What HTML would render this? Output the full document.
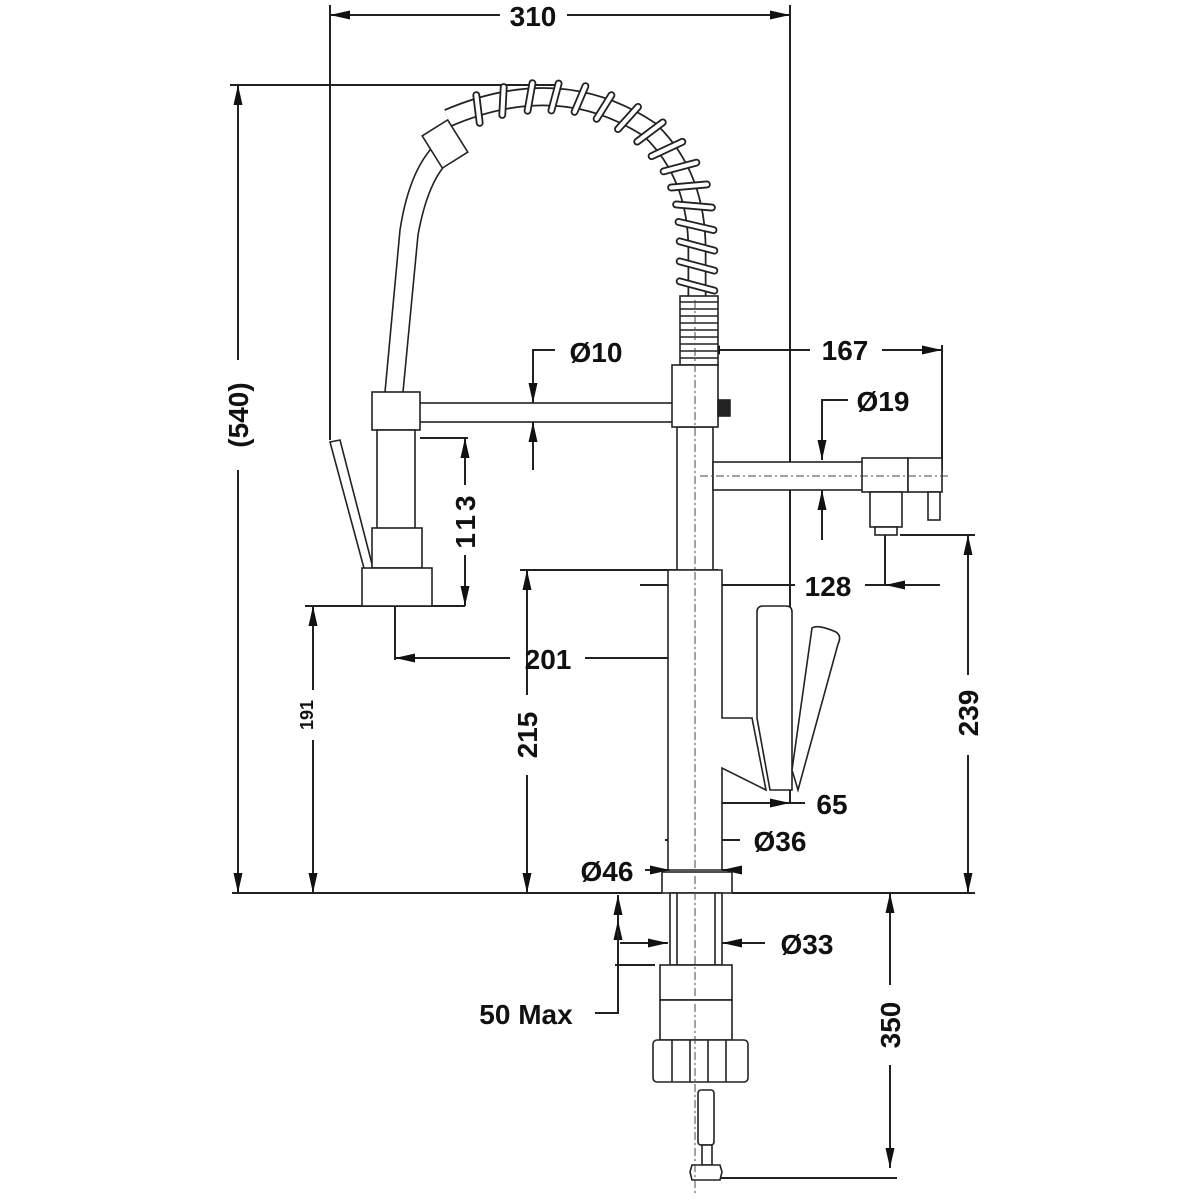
<!DOCTYPE html>
<html><head><meta charset="utf-8"><style>
html,body{margin:0;padding:0;background:#fff}
svg{display:block}
text{font-family:"Liberation Sans",sans-serif;font-weight:bold;fill:#111}
</style></head><body>
<svg width="1200" height="1200" viewBox="0 0 1200 1200" xmlns="http://www.w3.org/2000/svg">
<defs>
<marker id="a" viewBox="0 0 20 9" refX="20" refY="4.5" markerWidth="20" markerHeight="9" markerUnits="userSpaceOnUse" orient="auto-start-reverse" preserveAspectRatio="none"><path d="M0,0 L20,4.5 L0,9 z" fill="#111"/></marker>
</defs>
<g stroke="#222" stroke-width="2" fill="none">
<line x1="330" y1="5" x2="330" y2="440"/>
<line x1="790" y1="5" x2="790" y2="803"/>
<line x1="330" y1="15" x2="500" y2="15" marker-start="url(#a)"/>
<line x1="567" y1="15" x2="790" y2="15" marker-end="url(#a)"/>
<line x1="230" y1="85" x2="560" y2="85"/>
<line x1="238" y1="85" x2="238" y2="360" marker-start="url(#a)"/>
<line x1="238" y1="470" x2="238" y2="893" marker-end="url(#a)"/>
<line x1="232" y1="893" x2="662" y2="893"/>
<line x1="732" y1="893" x2="975" y2="893"/>
<line x1="305" y1="606" x2="465" y2="606"/>
<line x1="313" y1="606" x2="313" y2="690" marker-start="url(#a)"/>
<line x1="313" y1="740" x2="313" y2="893" marker-end="url(#a)"/>
<line x1="420" y1="438" x2="468" y2="438"/>
<line x1="465" y1="438" x2="465" y2="485" marker-start="url(#a)"/>
<line x1="465" y1="555" x2="465" y2="606" marker-end="url(#a)"/>
<line x1="395" y1="606" x2="395" y2="660"/>
<line x1="395" y1="658" x2="510" y2="658" marker-start="url(#a)"/>
<line x1="585" y1="658" x2="690" y2="658" marker-end="url(#a)"/>
<line x1="520" y1="570" x2="718" y2="570"/>
<line x1="527" y1="570" x2="527" y2="695" marker-start="url(#a)"/>
<line x1="527" y1="775" x2="527" y2="893" marker-end="url(#a)"/>
<line x1="640" y1="585" x2="692" y2="585" marker-end="url(#a)"/>
<line x1="692" y1="585" x2="795" y2="585"/>
<line x1="865" y1="585" x2="885" y2="585"/>
<line x1="940" y1="585" x2="885" y2="585" marker-end="url(#a)"/>
<line x1="885" y1="530" x2="885" y2="585"/>
<line x1="900" y1="535" x2="975" y2="535"/>
<line x1="968" y1="535" x2="968" y2="675" marker-start="url(#a)"/>
<line x1="968" y1="755" x2="968" y2="893" marker-end="url(#a)"/>
<line x1="810" y1="350" x2="700" y2="350" marker-end="url(#a)"/>
<line x1="882" y1="350" x2="942" y2="350" marker-end="url(#a)"/>
<line x1="942" y1="345" x2="942" y2="470"/>
<polyline points="555,350 533,350 533,405"/>
<line x1="533" y1="380" x2="533" y2="403" marker-end="url(#a)"/>
<line x1="533" y1="470" x2="533" y2="422" marker-end="url(#a)"/>
<polyline points="848,400 822,400 822,460"/>
<line x1="822" y1="430" x2="822" y2="460" marker-end="url(#a)"/>
<line x1="822" y1="540" x2="822" y2="490" marker-end="url(#a)"/>
<line x1="695" y1="803" x2="770" y2="803" marker-start="url(#a)"/>
<line x1="720" y1="803" x2="790" y2="803" marker-end="url(#a)"/>
<line x1="790" y1="803" x2="805" y2="803"/>
<line x1="665" y1="840" x2="678" y2="840" marker-start="url(#a)"/>
<line x1="678" y1="840" x2="740" y2="840"/>
<line x1="700" y1="840" x2="716" y2="840" marker-end="url(#a)"/>
<line x1="645" y1="870" x2="670" y2="870" marker-end="url(#a)"/>
<line x1="740" y1="870" x2="722" y2="870" marker-end="url(#a)"/>
<line x1="620" y1="943" x2="668" y2="943" marker-end="url(#a)"/>
<line x1="765" y1="943" x2="722" y2="943" marker-end="url(#a)"/>
<line x1="618" y1="895" x2="618" y2="943" marker-start="url(#a)"/>
<line x1="618" y1="920" x2="618" y2="965" marker-start="url(#a)"/>
<polyline points="618,930 618,1013 595,1013"/>
<line x1="615" y1="965" x2="655" y2="965"/>
<line x1="890" y1="893" x2="890" y2="985" marker-start="url(#a)"/>
<line x1="890" y1="1065" x2="890" y2="1168" marker-end="url(#a)"/>
<line x1="718" y1="1178" x2="897" y2="1178"/>
</g>

<g stroke="#222" stroke-width="1.6" fill="#fff">
<path d="M385,392 L400,230 Q410,165 440,140" fill="none"/>
<path d="M403,392 L418,235 Q428,180 450,160" fill="none"/>
<path d="M448,118 Q560,70 650,130 Q697,175 697,250 L697,300" fill="none" stroke-width="19" stroke="#222"/>
<path d="M448,118 Q560,70 650,130 Q697,175 697,250 L697,300" fill="none" stroke-width="15.5" stroke="#fff"/>
<g stroke-width="1.8">
<rect x="-17" y="-3" width="34" height="6" rx="3" transform="translate(478,109) rotate(83)"/>
<rect x="-17" y="-3" width="34" height="6" rx="3" transform="translate(503,101) rotate(93)"/>
<rect x="-17" y="-3" width="34" height="6" rx="3" transform="translate(530,97) rotate(100)"/>
<rect x="-17" y="-3" width="34" height="6" rx="3" transform="translate(555,97) rotate(105)"/>
<rect x="-17" y="-3" width="34" height="6" rx="3" transform="translate(580,99) rotate(113)"/>
<rect x="-17" y="-3" width="34" height="6" rx="3" transform="translate(604,107) rotate(122)"/>
<rect x="-18" y="-3" width="36" height="6" rx="3" transform="translate(628,118) rotate(132)"/>
<rect x="-19" y="-3" width="38" height="6" rx="3" transform="translate(650,132) rotate(143)"/>
<rect x="-20" y="-3" width="40" height="6" rx="3" transform="translate(667,149) rotate(155)"/>
<rect x="-20" y="-3" width="40" height="6" rx="3" transform="translate(680,167) rotate(165)"/>
<rect x="-21" y="-3" width="42" height="6" rx="3" transform="translate(689,186) rotate(175)"/>
<rect x="-21" y="-3" width="42" height="6" rx="3" transform="translate(694,206) rotate(185)"/>
<rect x="-21" y="-3" width="42" height="6" rx="3" transform="translate(696,226) rotate(193)"/>
<rect x="-21" y="-3" width="42" height="6" rx="3" transform="translate(697,246) rotate(195)"/>
<rect x="-21" y="-3" width="42" height="6" rx="3" transform="translate(697,266) rotate(195)"/>
<rect x="-21" y="-3" width="42" height="6" rx="3" transform="translate(697,286) rotate(195)"/>
</g>
<rect x="680" y="296" width="38" height="69"/>
<path d="M680,302 h38 M680,309 h38 M680,316 h38 M680,323 h38 M680,330 h38 M680,337 h38 M680,344 h38 M680,351 h38 M680,358 h38" fill="none"/>
<rect x="430" y="125" width="30" height="38" transform="rotate(-32 445 144)"/>
<polygon points="330,442 340,440 373,568 365,572"/>
<rect x="418" y="403" width="258" height="19"/>
<rect x="372" y="392" width="48" height="38"/>
<rect x="377" y="430" width="38" height="100"/>
<rect x="372" y="528" width="50" height="40"/>
<rect x="362" y="568" width="70" height="38"/>
<rect x="677" y="427" width="36" height="143"/>
<rect x="672" y="365" width="46" height="62"/>
<rect x="718" y="400" width="12" height="16" fill="#222"/>
<path d="M668,570 L722,570 L722,718 L752,718 L766,790 L722,768 L722,870 L668,870 Z"/>
<path d="M757,718 L757,612 Q757,606 763,606 L786,606 Q792,606 792,612 L792,790 L770,790 Z"/>
<path d="M812,628 Q818,624 836,632 Q842,636 838,644 L798,790 L792,770 Z"/>
<rect x="713" y="462" width="150" height="28"/>
<rect x="862" y="458" width="46" height="34"/>
<rect x="908" y="458" width="34" height="34"/>
<rect x="870" y="492" width="32" height="35"/>
<rect x="875" y="527" width="22" height="8"/>
<rect x="928" y="492" width="12" height="28"/>
<rect x="662" y="872" width="70" height="21"/>
<rect x="670" y="893" width="52" height="72"/>
<line x1="677" y1="893" x2="677" y2="965"/><line x1="715" y1="893" x2="715" y2="965"/>
<rect x="660" y="965" width="72" height="35"/>
<rect x="660" y="1000" width="72" height="40"/>
<rect x="653" y="1040" width="95" height="42" rx="4"/>
<path d="M672,1040 v42 M690,1040 v42 M708,1040 v42 M726,1040 v42" fill="none"/>
<rect x="698" y="1090" width="16" height="55" rx="3"/>
<rect x="702" y="1145" width="10" height="20"/>
<polygon points="692,1165 720,1165 722,1172 720,1180 692,1180 690,1172"/>
</g>
<g stroke="#444" stroke-width="1" stroke-dasharray="8,3,2,3" fill="none">
<line x1="695" y1="300" x2="695" y2="1195"/>
<line x1="700" y1="476" x2="948" y2="476"/>
</g>

<text x="533" y="26" font-size="28" text-anchor="middle">310</text>
<text x="845" y="360" font-size="28" text-anchor="middle">167</text>
<text x="596" y="362" font-size="28" text-anchor="middle">Ø10</text>
<text x="883" y="411" font-size="28" text-anchor="middle">Ø19</text>
<text x="828" y="596" font-size="28" text-anchor="middle">128</text>
<text x="548" y="669" font-size="28" text-anchor="middle">201</text>
<text x="832" y="814" font-size="28" text-anchor="middle">65</text>
<text x="780" y="851" font-size="28" text-anchor="middle">Ø36</text>
<text x="607" y="881" font-size="28" text-anchor="middle">Ø46</text>
<text x="807" y="954" font-size="28" text-anchor="middle">Ø33</text>
<text x="526" y="1024" font-size="28" text-anchor="middle">50 Max</text>
<text transform="translate(248,415) rotate(-90)" font-size="28" text-anchor="middle">(540)</text>
<text transform="translate(313,715) rotate(-90)" font-size="18" font-weight="normal" text-anchor="middle">191</text>
<text transform="translate(475,520) rotate(-90)" font-size="28" text-anchor="middle" letter-spacing="4">113</text>
<text transform="translate(537,735) rotate(-90)" font-size="28" text-anchor="middle">215</text>
<text transform="translate(978,713) rotate(-90)" font-size="28" text-anchor="middle">239</text>
<text transform="translate(900,1025) rotate(-90)" font-size="28" text-anchor="middle">350</text>
</svg>
</body></html>
